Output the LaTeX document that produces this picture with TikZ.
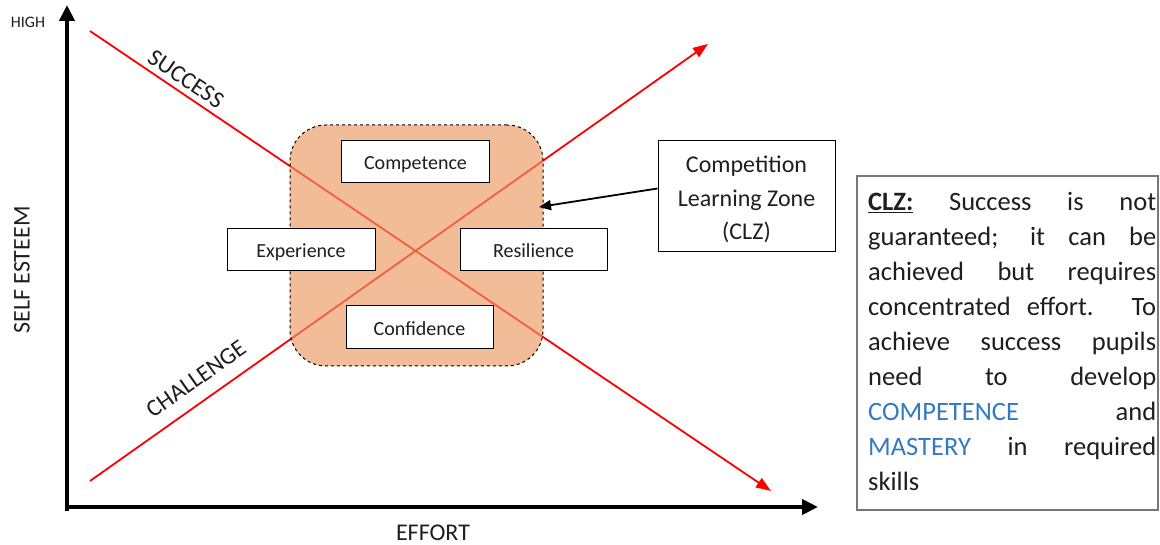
\documentclass[tikz,border=0pt]{standalone}
\usepackage{fontspec}
\setmainfont{Carlito}
\usetikzlibrary{arrows.meta}
\definecolor{zonefill}{RGB}{237,150,94}
\definecolor{txtblue}{RGB}{52,122,190}
\definecolor{boxgray}{RGB}{120,120,120}
\definecolor{txt}{RGB}{30,30,30}
\newcommand\jl[1]{\makebox[288pt][s]{#1}}
\begin{document}
\begin{tikzpicture}[x=1pt,y=-1pt,
  axis/.style={line width=4pt,-{Triangle[length=16pt,width=15pt]}},
  redline/.style={red,line width=1.8pt,-{Triangle[length=15pt,width=11pt]}},
  wordbox/.style={draw=black,line width=1pt,fill=white,minimum width=148pt,minimum height=42pt,inner sep=0pt,text height=20pt,text depth=4pt,font=\fontsize{20}{22}\selectfont,text=txt},
  lbl/.style={font=\fontsize{24}{26}\selectfont,text=txt,inner sep=0pt}]
\useasboundingbox (0,0) rectangle (1160,545);
% axes
\coordinate (O) at (67,509);
\coordinate (ytip) at (67,5);
\coordinate (xtip) at (818,507);
\draw[axis] (67,511) -- (ytip);
\draw[axis] (65,507) -- (xtip);
\node[font=\fontsize{16}{18}\selectfont,text=txt] (high) at (28,22) {HIGH};
\node[lbl,rotate=90] (selfesteem) at (22,270) {SELF ESTEEM};
\node[lbl] (effort) at (433,533) {EFFORT};
% red lines
\coordinate (s0) at (90,31);
\coordinate (s1) at (771,491);
\coordinate (c0) at (90,481);
\coordinate (c1) at (708,44);
\draw[redline] (s0) -- (s1);
\draw[redline] (c0) -- (c1);
\node[lbl,rotate=-34] (success) at (186,79) {SUCCESS};
\node[lbl,rotate=35.3] (challenge) at (196,379) {CHALLENGE};
% zone
\node[draw=black,dashed,line width=1pt,fill=zonefill,fill opacity=0.64,draw opacity=1,rounded corners=36pt,minimum width=253pt,minimum height=241pt] (zone) at (416.5,245.5) {};
\node[wordbox] (competence) at (415.5,161.5) {Competence};
\node[wordbox] (experience) at (301,250) {Experience};
\node[wordbox,minimum width=147pt] (resilience) at (533.5,250) {Resilience};
\node[wordbox,minimum width=147pt,minimum height=43pt] (confidence) at (419.5,327.5) {Confidence};
% CLZ box
\node[draw=black,line width=1pt,minimum width=177pt,minimum height=111pt,inner sep=0pt] (clz) at (746.5,196.5) {};
\node[align=center,font=\fontsize{24}{33.5}\selectfont,text=txt,inner sep=0pt] (clztext) at (746.5,199.5) {Competition\\Learning Zone\\(CLZ)};
\coordinate (clztip) at (539,207);
\draw[line width=1.8pt,-{Triangle[length=12pt,width=10pt]}] (clz.west) ++(0,-8) -- (clztip);
% right text box
\node[draw=boxgray,line width=1.5pt,minimum width=301pt,minimum height=334pt,inner sep=0pt] (note) at (1007.5,343) {};
\node[anchor=north west,inner sep=0pt,font=\fontsize{26.5}{35}\selectfont,text=txt,align=left] (notetext) at (868,192.5) {%
\jl{\underline{\textbf{CLZ:}} Success is not}\\
\jl{guaranteed; it can be}\\
\jl{achieved but requires}\\
\jl{concentrated effort. To}\\
\jl{achieve success pupils}\\
\jl{need to develop}\\
\jl{\textcolor{txtblue}{COMPETENCE} and}\\
\jl{\textcolor{txtblue}{MASTERY} in required}\\
skills};
\end{tikzpicture}
\end{document}
